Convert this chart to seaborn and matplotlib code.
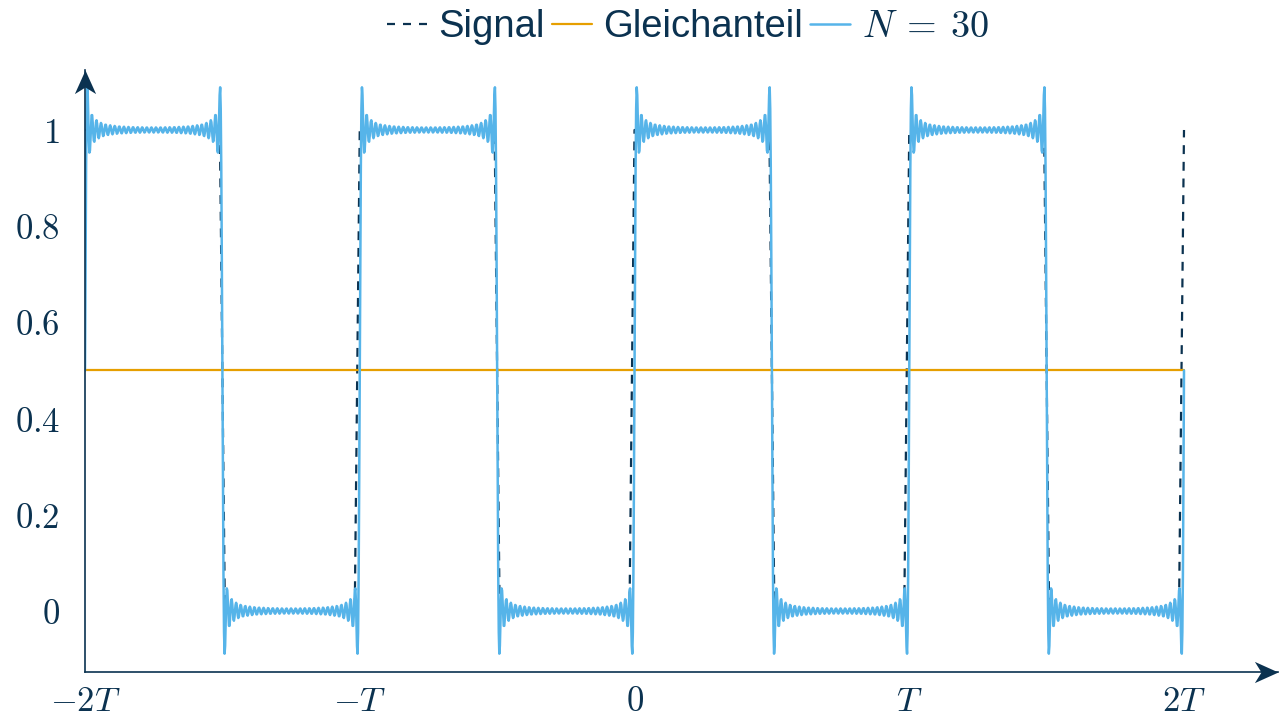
import numpy as np
import pandas as pd
import matplotlib
matplotlib.use("Agg")
import matplotlib.pyplot as plt
import seaborn as sns
from matplotlib.lines import Line2D
from matplotlib.path import Path

# --- square wave definition (time in units of the period T) ---
t_start, t_end = -2.0, 2.0
signal_high = 1.0
signal_low = 0.0
duty_cycle = 0.5
dc_component = 0.5          # Gleichanteil
n_terms = 30                # number of odd harmonics in the partial sum
signal_samples = 221
series_samples = 2001

x_ticks = [-2, -1, 0, 1, 2]
x_tick_labels = [r"$-2T$", r"$-T$", r"$0$", r"$T$", r"$2T$"]
y_ticks = [0, 0.2, 0.4, 0.6, 0.8, 1.0]
y_tick_labels = [r"$0$", r"$0.2$", r"$0.4$", r"$0.6$", r"$0.8$", r"$1$"]

navy = "#0b3250"
sky = "#56B4E9"
orange = "#E69F00"

# ideal rectangular signal
t_sig = np.linspace(t_start, t_end, signal_samples)
phase = np.mod(t_sig, 1.0)
sig = np.where(phase < duty_cycle, signal_high, signal_low)

# Fourier partial sum with the first n_terms odd harmonics
t_f = np.linspace(t_start, t_end, series_samples)
harmonics = np.arange(1, 2 * n_terms, 2)
amp = signal_high - signal_low
coeffs = 2 * amp / (np.pi * harmonics)
fourier = dc_component + (coeffs[:, None] * np.sin(2 * np.pi * harmonics[:, None] * t_f[None, :])).sum(axis=0)

df_sig = pd.DataFrame({"t": t_sig, "y": sig})
df_dc = pd.DataFrame({"t": [t_start, t_end], "y": [dc_component, dc_component]})
df_f = pd.DataFrame({"t": t_f, "y": fourier})

sns.set_style("white")
plt.rcParams["mathtext.fontset"] = "cm"
plt.rcParams["font.family"] = ["Liberation Sans", "DejaVu Sans"]

fig = plt.figure(figsize=(12.79, 7.24), dpi=100)
ax = fig.add_axes([85 / 1279, 52 / 724, (1278 - 85) / 1279, (672 - 70) / 724])

sns.lineplot(data=df_sig, x="t", y="y", ax=ax, color=navy, lw=1.6,
             linestyle=(0, (4, 3.5)), estimator=None, sort=False)
sns.lineplot(data=df_dc, x="t", y="y", ax=ax, color=orange, lw=1.6,
             estimator=None, sort=False)
sns.lineplot(data=df_f, x="t", y="y", ax=ax, color=sky, lw=1.8,
             estimator=None, sort=False)

ax.set_xlim(t_start, (1278 - 85) / 274.75 - 2)
ax.set_ylim(-0.1268, 1.1247)
ax.set_xlabel("")
ax.set_ylabel("")

ax.set_xticks(x_ticks)
ax.set_xticklabels(x_tick_labels)
ax.set_yticks(y_ticks)
ax.set_yticklabels(y_tick_labels)
ax.tick_params(axis="x", direction="inout", length=11, width=1.0, color="#8a8a8a",
               labelsize=25, labelcolor=navy, pad=4)
ax.tick_params(axis="y", direction="out", length=6, width=1.0, color="#8a8a8a",
               labelsize=25, labelcolor=navy, pad=12)

for side in ("top", "right"):
    ax.spines[side].set_visible(False)
for side in ("left", "bottom"):
    ax.spines[side].set_color(navy)
    ax.spines[side].set_linewidth(1.2)

# stealth-style arrow heads at the ends of the axis lines
up_head = Path([(0, 0), (-0.45, -1), (0, -0.72), (0.45, -1), (0, 0)],
               [Path.MOVETO, Path.LINETO, Path.LINETO, Path.LINETO, Path.CLOSEPOLY])
right_head = Path([(0, 0), (-1, 0.45), (-0.72, 0), (-1, -0.45), (0, 0)],
                  [Path.MOVETO, Path.LINETO, Path.LINETO, Path.LINETO, Path.CLOSEPOLY])
ax.plot([0], [1.0], marker=up_head, markersize=34, color=navy, mew=0,
        transform=ax.transAxes, clip_on=False, zorder=5)
ax.plot([1.0], [0], marker=right_head, markersize=34, color=navy, mew=0,
        transform=ax.transAxes, clip_on=False, zorder=5)

handles = [
    Line2D([], [], color=navy, lw=1.6, linestyle=(0, (3.6, 3.6))),
    Line2D([], [], color=orange, lw=1.6),
    Line2D([], [], color=sky, lw=1.8),
]
labels = ["Signal", "Gleichanteil", r"$N\:=\:30$"]
leg = fig.legend(handles, labels, loc="center", bbox_to_anchor=(688 / 1279, 1 - 27 / 724),
                 ncol=3, frameon=False, fontsize=27.5, handlelength=1.05,
                 handletextpad=0.3, columnspacing=0.18, borderpad=0)
for txt in leg.get_texts():
    txt.set_color(navy)

fig.savefig("out.png", dpi=100)
